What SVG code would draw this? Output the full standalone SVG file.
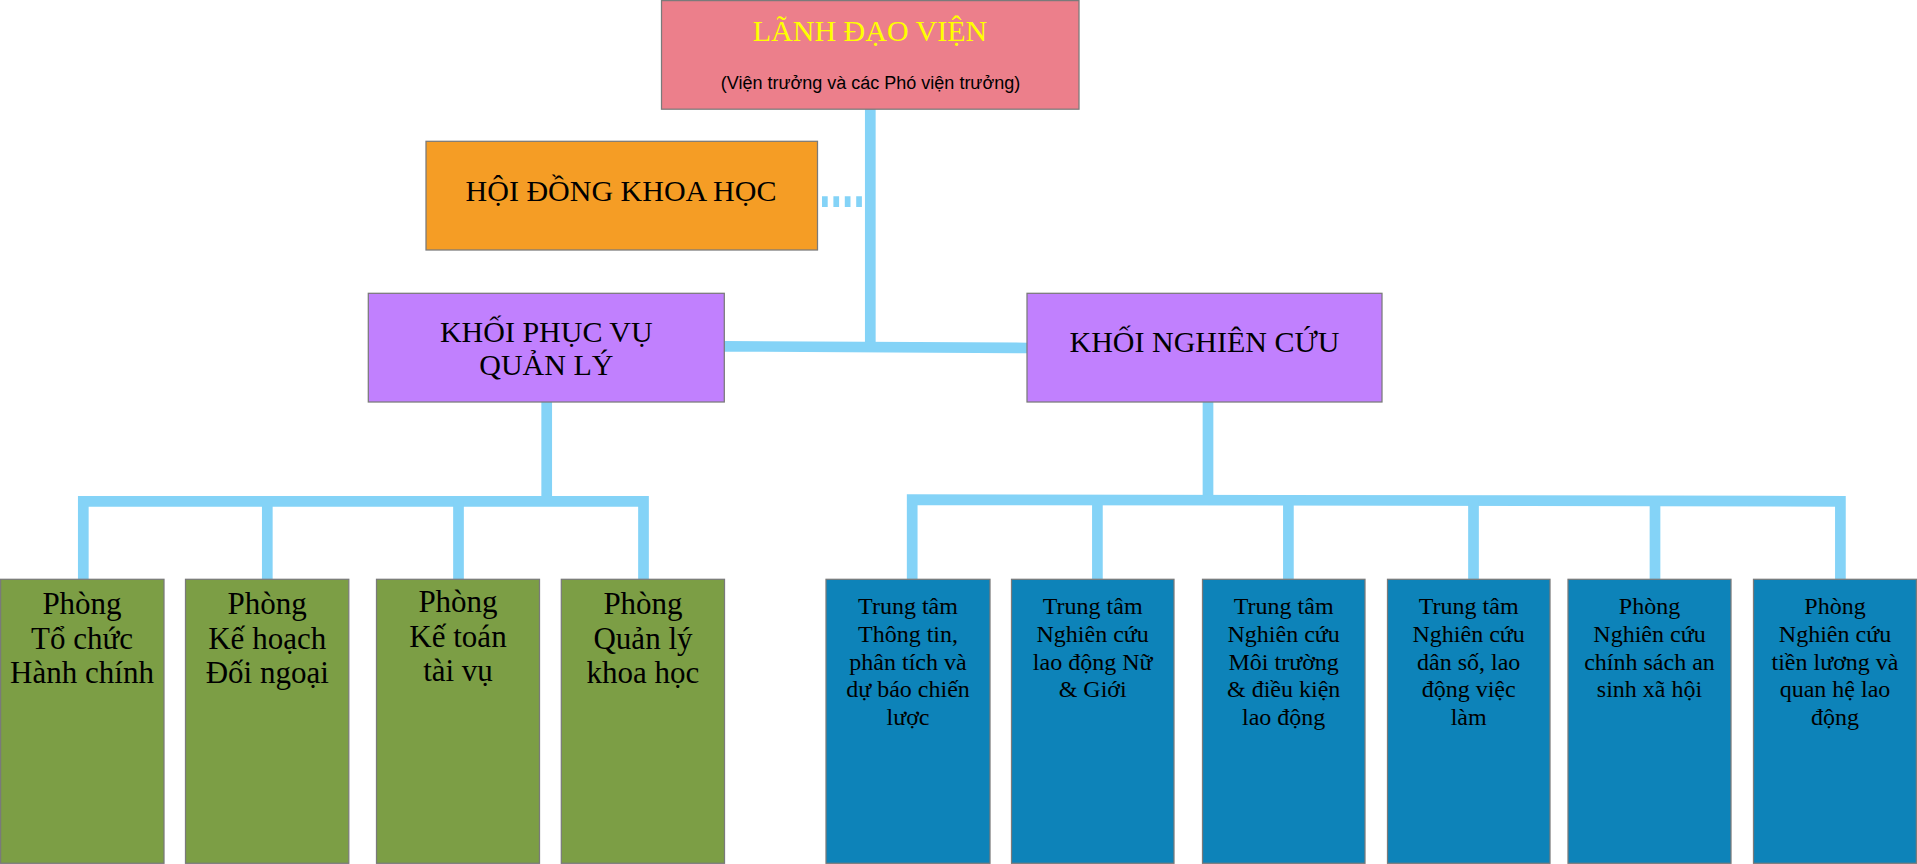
<svg xmlns="http://www.w3.org/2000/svg" width="1917" height="864" viewBox="0 0 1917 864">
<style>
.box{stroke:#7a7a7a;stroke-width:1.25}
.serif{font-family:"Liberation Serif","Times New Roman",serif;fill:#000;text-anchor:middle}
.sans{font-family:"Liberation Sans",Arial,sans-serif;fill:#000;text-anchor:middle}
.t30{font-size:30px}
.t31{font-size:31px}
.t24{font-size:24px}
.conn{stroke:#84d3f7;stroke-width:10.7;fill:none;stroke-linecap:butt;stroke-linejoin:miter}
.green{fill:#7c9e45}
.blue{fill:#0d83b9}
</style>
<g id="connectors">
<line class="conn" x1="870.3" y1="109" x2="870.3" y2="346"/>
<line class="conn" x1="822" y1="201.7" x2="862" y2="201.7" stroke-dasharray="5.7 5.7"/>
<line class="conn" x1="724" y1="346.3" x2="1028" y2="348"/>
<line class="conn" x1="546.7" y1="402" x2="546.7" y2="501"/>
<polyline class="conn" points="83.3,579 83.3,501.3 643.5,501.3 643.5,579"/>
<line class="conn" x1="267.3" y1="501" x2="267.3" y2="579"/>
<line class="conn" x1="458.5" y1="501" x2="458.5" y2="579"/>
<line class="conn" x1="1208" y1="402" x2="1208" y2="500"/>
<polyline class="conn" points="912.2,579 912.2,499.6 1840.4,501.3 1840.4,579"/>
<line class="conn" x1="1097.4" y1="500" x2="1097.4" y2="579"/>
<line class="conn" x1="1288.4" y1="500" x2="1288.4" y2="579"/>
<line class="conn" x1="1473.5" y1="500" x2="1473.5" y2="579"/>
<line class="conn" x1="1655" y1="500" x2="1655" y2="579"/>
</g>
<g id="lanh-dao-vien">
<rect class="box" x="661.5" y="0.6" width="417.5" height="108.6" fill="#ec7f8b"/>
<text class="serif t30" x="870" y="40.7" style="fill:#ffff00">LÃNH ĐẠO VIỆN</text>
<text class="sans" x="870.5" y="89.3" font-size="18">(Viện trưởng và các Phó viện trưởng)</text>
</g>
<g id="hoi-dong-khoa-hoc">
<rect class="box" x="426" y="141.3" width="391.5" height="108.7" fill="#f59d25"/>
<text class="serif t30" x="621" y="201.3">HỘI ĐỒNG KHOA HỌC</text>
</g>
<g id="khoi-phuc-vu-quan-ly">
<rect class="box" x="368.3" y="293.3" width="356" height="108.7" fill="#c180fe"/>
<text class="serif t30" x="546.3" y="341.7">KHỐI PHỤC VỤ</text>
<text class="serif t30" x="546.3" y="375">QUẢN LÝ</text>
</g>
<g id="khoi-nghien-cuu">
<rect class="box" x="1027" y="293.3" width="355" height="108.7" fill="#c180fe"/>
<text class="serif t30" x="1204.5" y="351.7">KHỐI NGHIÊN CỨU</text>
</g>
<g id="phong-to-chuc-hanh-chinh">
<rect class="box green" x="0.6" y="579.3" width="163.4" height="284"/>
<text class="serif t31" x="82" y="614">Phòng</text>
<text class="serif t31" x="82" y="648.5">Tổ chức</text>
<text class="serif t31" x="82" y="683">Hành chính</text>
</g>
<g id="phong-ke-hoach-doi-ngoai">
<rect class="box green" x="185.5" y="579.3" width="163.3" height="284"/>
<text class="serif t31" x="267.2" y="614">Phòng</text>
<text class="serif t31" x="267.2" y="648.5">Kế hoạch</text>
<text class="serif t31" x="267.2" y="683">Đối ngoại</text>
</g>
<g id="phong-ke-toan-tai-vu">
<rect class="box green" x="376.5" y="579.3" width="163" height="284"/>
<text class="serif t31" x="458" y="612">Phòng</text>
<text class="serif t31" x="458" y="646.5">Kế toán</text>
<text class="serif t31" x="458" y="681">tài vụ</text>
</g>
<g id="phong-quan-ly-khoa-hoc">
<rect class="box green" x="561.3" y="579.3" width="163.2" height="284"/>
<text class="serif t31" x="643" y="614">Phòng</text>
<text class="serif t31" x="643" y="648.5">Quản lý</text>
<text class="serif t31" x="643" y="683">khoa học</text>
</g>
<g id="tt-thong-tin">
<rect class="box blue" x="826" y="579.3" width="164" height="284"/>
<text class="serif t24" x="908" y="614.3">Trung tâm</text>
<text class="serif t24" x="908" y="642">Thông tin,</text>
<text class="serif t24" x="908" y="669.7">phân tích và</text>
<text class="serif t24" x="908" y="697.4">dự báo chiến</text>
<text class="serif t24" x="908" y="725.1">lược</text>
</g>
<g id="tt-lao-dong-nu-gioi">
<rect class="box blue" x="1011.5" y="579.3" width="162.5" height="284"/>
<text class="serif t24" x="1092.7" y="614.3">Trung tâm</text>
<text class="serif t24" x="1092.7" y="642">Nghiên cứu</text>
<text class="serif t24" x="1092.7" y="669.7">lao động Nữ</text>
<text class="serif t24" x="1092.7" y="697.4">&amp; Giới</text>
</g>
<g id="tt-moi-truong">
<rect class="box blue" x="1202.5" y="579.3" width="162.5" height="284"/>
<text class="serif t24" x="1283.7" y="614.3">Trung tâm</text>
<text class="serif t24" x="1283.7" y="642">Nghiên cứu</text>
<text class="serif t24" x="1283.7" y="669.7">Môi trường</text>
<text class="serif t24" x="1283.7" y="697.4">&amp; điều kiện</text>
<text class="serif t24" x="1283.7" y="725.1">lao động</text>
</g>
<g id="tt-dan-so">
<rect class="box blue" x="1387.5" y="579.3" width="162.5" height="284"/>
<text class="serif t24" x="1468.7" y="614.3">Trung tâm</text>
<text class="serif t24" x="1468.7" y="642">Nghiên cứu</text>
<text class="serif t24" x="1468.7" y="669.7">dân số, lao</text>
<text class="serif t24" x="1468.7" y="697.4">động việc</text>
<text class="serif t24" x="1468.7" y="725.1">làm</text>
</g>
<g id="phong-an-sinh">
<rect class="box blue" x="1568" y="579.3" width="163" height="284"/>
<text class="serif t24" x="1649.5" y="614.3">Phòng</text>
<text class="serif t24" x="1649.5" y="642">Nghiên cứu</text>
<text class="serif t24" x="1649.5" y="669.7">chính sách an</text>
<text class="serif t24" x="1649.5" y="697.4">sinh xã hội</text>
</g>
<g id="phong-tien-luong">
<rect class="box blue" x="1753.5" y="579.3" width="162.9" height="284"/>
<text class="serif t24" x="1835" y="614.3">Phòng</text>
<text class="serif t24" x="1835" y="642">Nghiên cứu</text>
<text class="serif t24" x="1835" y="669.7">tiền lương và</text>
<text class="serif t24" x="1835" y="697.4">quan hệ lao</text>
<text class="serif t24" x="1835" y="725.1">động</text>
</g>
</svg>
